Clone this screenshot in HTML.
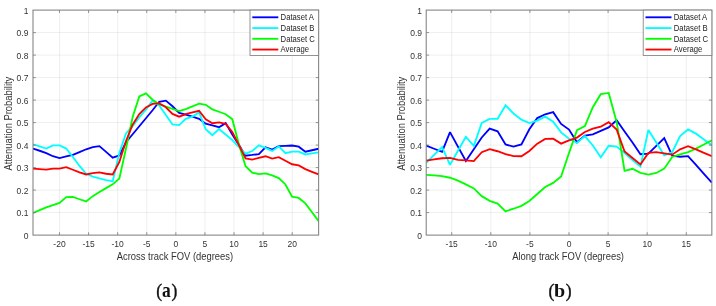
<!DOCTYPE html>
<html><head><meta charset="utf-8"><title>Attenuation probability</title>
<style>
html,body{margin:0;padding:0;background:#fff;}
body{width:716px;height:306px;overflow:hidden;font-family:"Liberation Sans",sans-serif;}
svg{display:block;will-change:transform;}
svg text{font-family:"Liberation Sans",sans-serif;}
svg text.cap{font-family:"Liberation Serif",serif;}
</style></head>
<body>
<svg width="716" height="306" viewBox="0 0 716 306">
<rect width="716" height="306" fill="#ffffff"/>
<g id="left">
<line x1="59.49" y1="10.1" x2="59.49" y2="235.1" stroke="#000" stroke-opacity="0.068" stroke-width="1"/>
<line x1="88.58" y1="10.1" x2="88.58" y2="235.1" stroke="#000" stroke-opacity="0.068" stroke-width="1"/>
<line x1="117.67" y1="10.1" x2="117.67" y2="235.1" stroke="#000" stroke-opacity="0.068" stroke-width="1"/>
<line x1="146.76" y1="10.1" x2="146.76" y2="235.1" stroke="#000" stroke-opacity="0.068" stroke-width="1"/>
<line x1="175.85" y1="10.1" x2="175.85" y2="235.1" stroke="#000" stroke-opacity="0.068" stroke-width="1"/>
<line x1="204.94" y1="10.1" x2="204.94" y2="235.1" stroke="#000" stroke-opacity="0.068" stroke-width="1"/>
<line x1="234.03" y1="10.1" x2="234.03" y2="235.1" stroke="#000" stroke-opacity="0.068" stroke-width="1"/>
<line x1="263.12" y1="10.1" x2="263.12" y2="235.1" stroke="#000" stroke-opacity="0.068" stroke-width="1"/>
<line x1="292.21" y1="10.1" x2="292.21" y2="235.1" stroke="#000" stroke-opacity="0.068" stroke-width="1"/>
<line x1="33.0" y1="212.60" x2="318.65" y2="212.60" stroke="#000" stroke-opacity="0.068" stroke-width="1"/>
<line x1="33.0" y1="190.10" x2="318.65" y2="190.10" stroke="#000" stroke-opacity="0.068" stroke-width="1"/>
<line x1="33.0" y1="167.60" x2="318.65" y2="167.60" stroke="#000" stroke-opacity="0.068" stroke-width="1"/>
<line x1="33.0" y1="145.10" x2="318.65" y2="145.10" stroke="#000" stroke-opacity="0.068" stroke-width="1"/>
<line x1="33.0" y1="122.60" x2="318.65" y2="122.60" stroke="#000" stroke-opacity="0.068" stroke-width="1"/>
<line x1="33.0" y1="100.10" x2="318.65" y2="100.10" stroke="#000" stroke-opacity="0.068" stroke-width="1"/>
<line x1="33.0" y1="77.60" x2="318.65" y2="77.60" stroke="#000" stroke-opacity="0.068" stroke-width="1"/>
<line x1="33.0" y1="55.10" x2="318.65" y2="55.10" stroke="#000" stroke-opacity="0.068" stroke-width="1"/>
<line x1="33.0" y1="32.60" x2="318.65" y2="32.60" stroke="#000" stroke-opacity="0.068" stroke-width="1"/>
<clipPath id="ca"><rect x="33.0" y="10.1" width="285.65" height="225.0"/></clipPath>
<g clip-path="url(#ca)" fill="none" stroke-width="1.85" stroke-linejoin="miter" stroke-miterlimit="2">
<polyline points="33.00,148.55 39.64,150.75 46.29,153.05 52.93,156.25 59.57,158.05 66.22,156.45 72.86,154.85 79.50,152.05 86.14,149.25 92.79,147.15 99.43,146.15 106.07,151.85 112.72,157.65 119.36,155.45 126.00,142.25 132.65,134.25 139.29,126.25 145.93,118.25 152.57,110.25 159.22,101.75 165.86,100.65 172.50,106.25 179.15,112.95 185.79,114.55 192.43,116.65 199.08,118.85 205.72,123.65 212.36,125.45 219.00,127.25 225.65,123.15 232.29,134.45 238.93,144.95 245.58,155.65 252.22,154.95 258.86,154.05 265.51,147.25 272.15,149.55 278.79,146.15 285.43,145.85 292.08,145.55 298.72,146.65 305.36,151.65 312.01,150.25 318.65,148.75" stroke="#0000ff"/>
<polyline points="33.00,144.35 39.64,146.45 46.29,148.55 52.93,145.35 59.57,145.35 66.22,148.55 72.86,156.95 79.50,165.95 86.14,173.75 92.79,176.65 99.43,178.45 106.07,180.15 112.72,181.25 119.36,152.75 126.00,133.45 132.65,126.05 139.29,117.35 145.93,109.65 152.57,100.65 159.22,105.45 165.86,114.95 172.50,124.45 179.15,125.15 185.79,118.75 192.43,116.65 199.08,112.45 205.72,129.25 212.36,135.15 219.00,129.05 225.65,134.45 232.29,140.15 238.93,147.15 245.58,153.65 252.22,151.05 258.86,145.35 265.51,147.85 272.15,150.95 278.79,146.45 285.43,153.25 292.08,151.65 298.72,151.65 305.36,154.45 312.01,153.45 318.65,152.35" stroke="#00ffff"/>
<polyline points="33.00,212.95 39.64,210.15 46.29,207.35 52.93,205.05 59.57,202.85 66.22,197.15 72.86,196.95 79.50,199.25 86.14,201.45 92.79,196.15 99.43,192.05 106.07,188.15 112.72,184.35 119.36,178.45 126.00,148.45 132.65,116.95 139.29,96.45 145.93,93.35 152.57,99.75 159.22,104.15 165.86,106.65 172.50,108.95 179.15,111.15 185.79,109.05 192.43,106.45 199.08,103.65 205.72,104.85 212.36,109.35 219.00,111.75 225.65,114.25 232.29,119.15 238.93,144.45 245.58,166.25 252.22,172.55 258.86,174.15 265.51,173.35 272.15,175.35 278.79,178.15 285.43,184.45 292.08,196.75 298.72,197.95 305.36,203.35 312.01,212.25 318.65,221.15" stroke="#00ff00"/>
<polyline points="33.00,168.55 39.64,169.05 46.29,169.55 52.93,168.55 59.57,168.55 66.22,167.15 72.86,169.75 79.50,172.35 86.14,174.45 92.79,173.05 99.43,172.35 106.07,173.75 112.72,174.45 119.36,161.95 126.00,140.95 132.65,124.75 139.29,114.05 145.93,107.45 152.57,103.95 159.22,103.45 165.86,107.25 172.50,113.85 179.15,116.65 185.79,114.15 192.43,112.45 199.08,110.75 205.72,119.25 212.36,123.25 219.00,122.45 225.65,123.85 232.29,131.95 238.93,145.15 245.58,158.45 252.22,159.55 258.86,157.95 265.51,156.25 272.15,158.65 278.79,157.15 285.43,160.75 292.08,164.25 298.72,165.35 305.36,169.15 312.01,171.85 318.65,174.45" stroke="#ff0000"/>
</g>
<rect x="33.0" y="10.1" width="285.65" height="225.0" fill="none" stroke="#7a7a7a" stroke-width="1"/>
<line x1="59.49" y1="235.1" x2="59.49" y2="232.2" stroke="#7a7a7a" stroke-width="0.8"/>
<line x1="59.49" y1="10.1" x2="59.49" y2="13.0" stroke="#7a7a7a" stroke-width="0.8"/>
<text transform="translate(59.49,247.30) scale(1.0,1.1)" font-size="8.5" text-anchor="middle" fill="#333333">-20</text>
<line x1="88.58" y1="235.1" x2="88.58" y2="232.2" stroke="#7a7a7a" stroke-width="0.8"/>
<line x1="88.58" y1="10.1" x2="88.58" y2="13.0" stroke="#7a7a7a" stroke-width="0.8"/>
<text transform="translate(88.58,247.30) scale(1.0,1.1)" font-size="8.5" text-anchor="middle" fill="#333333">-15</text>
<line x1="117.67" y1="235.1" x2="117.67" y2="232.2" stroke="#7a7a7a" stroke-width="0.8"/>
<line x1="117.67" y1="10.1" x2="117.67" y2="13.0" stroke="#7a7a7a" stroke-width="0.8"/>
<text transform="translate(117.67,247.30) scale(1.0,1.1)" font-size="8.5" text-anchor="middle" fill="#333333">-10</text>
<line x1="146.76" y1="235.1" x2="146.76" y2="232.2" stroke="#7a7a7a" stroke-width="0.8"/>
<line x1="146.76" y1="10.1" x2="146.76" y2="13.0" stroke="#7a7a7a" stroke-width="0.8"/>
<text transform="translate(146.76,247.30) scale(1.0,1.1)" font-size="8.5" text-anchor="middle" fill="#333333">-5</text>
<line x1="175.85" y1="235.1" x2="175.85" y2="232.2" stroke="#7a7a7a" stroke-width="0.8"/>
<line x1="175.85" y1="10.1" x2="175.85" y2="13.0" stroke="#7a7a7a" stroke-width="0.8"/>
<text transform="translate(175.85,247.30) scale(1.0,1.1)" font-size="8.5" text-anchor="middle" fill="#333333">0</text>
<line x1="204.94" y1="235.1" x2="204.94" y2="232.2" stroke="#7a7a7a" stroke-width="0.8"/>
<line x1="204.94" y1="10.1" x2="204.94" y2="13.0" stroke="#7a7a7a" stroke-width="0.8"/>
<text transform="translate(204.94,247.30) scale(1.0,1.1)" font-size="8.5" text-anchor="middle" fill="#333333">5</text>
<line x1="234.03" y1="235.1" x2="234.03" y2="232.2" stroke="#7a7a7a" stroke-width="0.8"/>
<line x1="234.03" y1="10.1" x2="234.03" y2="13.0" stroke="#7a7a7a" stroke-width="0.8"/>
<text transform="translate(234.03,247.30) scale(1.0,1.1)" font-size="8.5" text-anchor="middle" fill="#333333">10</text>
<line x1="263.12" y1="235.1" x2="263.12" y2="232.2" stroke="#7a7a7a" stroke-width="0.8"/>
<line x1="263.12" y1="10.1" x2="263.12" y2="13.0" stroke="#7a7a7a" stroke-width="0.8"/>
<text transform="translate(263.12,247.30) scale(1.0,1.1)" font-size="8.5" text-anchor="middle" fill="#333333">15</text>
<line x1="292.21" y1="235.1" x2="292.21" y2="232.2" stroke="#7a7a7a" stroke-width="0.8"/>
<line x1="292.21" y1="10.1" x2="292.21" y2="13.0" stroke="#7a7a7a" stroke-width="0.8"/>
<text transform="translate(292.21,247.30) scale(1.0,1.1)" font-size="8.5" text-anchor="middle" fill="#333333">20</text>
<text transform="translate(28.40,238.60) scale(1.0,1.1)" font-size="8.5" text-anchor="end" fill="#333333">0</text>
<line x1="33.0" y1="212.60" x2="35.9" y2="212.60" stroke="#7a7a7a" stroke-width="0.8"/>
<line x1="318.65" y1="212.60" x2="315.75" y2="212.60" stroke="#7a7a7a" stroke-width="0.8"/>
<text transform="translate(28.40,216.10) scale(1.0,1.1)" font-size="8.5" text-anchor="end" fill="#333333">0.1</text>
<line x1="33.0" y1="190.10" x2="35.9" y2="190.10" stroke="#7a7a7a" stroke-width="0.8"/>
<line x1="318.65" y1="190.10" x2="315.75" y2="190.10" stroke="#7a7a7a" stroke-width="0.8"/>
<text transform="translate(28.40,193.60) scale(1.0,1.1)" font-size="8.5" text-anchor="end" fill="#333333">0.2</text>
<line x1="33.0" y1="167.60" x2="35.9" y2="167.60" stroke="#7a7a7a" stroke-width="0.8"/>
<line x1="318.65" y1="167.60" x2="315.75" y2="167.60" stroke="#7a7a7a" stroke-width="0.8"/>
<text transform="translate(28.40,171.10) scale(1.0,1.1)" font-size="8.5" text-anchor="end" fill="#333333">0.3</text>
<line x1="33.0" y1="145.10" x2="35.9" y2="145.10" stroke="#7a7a7a" stroke-width="0.8"/>
<line x1="318.65" y1="145.10" x2="315.75" y2="145.10" stroke="#7a7a7a" stroke-width="0.8"/>
<text transform="translate(28.40,148.60) scale(1.0,1.1)" font-size="8.5" text-anchor="end" fill="#333333">0.4</text>
<line x1="33.0" y1="122.60" x2="35.9" y2="122.60" stroke="#7a7a7a" stroke-width="0.8"/>
<line x1="318.65" y1="122.60" x2="315.75" y2="122.60" stroke="#7a7a7a" stroke-width="0.8"/>
<text transform="translate(28.40,126.10) scale(1.0,1.1)" font-size="8.5" text-anchor="end" fill="#333333">0.5</text>
<line x1="33.0" y1="100.10" x2="35.9" y2="100.10" stroke="#7a7a7a" stroke-width="0.8"/>
<line x1="318.65" y1="100.10" x2="315.75" y2="100.10" stroke="#7a7a7a" stroke-width="0.8"/>
<text transform="translate(28.40,103.60) scale(1.0,1.1)" font-size="8.5" text-anchor="end" fill="#333333">0.6</text>
<line x1="33.0" y1="77.60" x2="35.9" y2="77.60" stroke="#7a7a7a" stroke-width="0.8"/>
<line x1="318.65" y1="77.60" x2="315.75" y2="77.60" stroke="#7a7a7a" stroke-width="0.8"/>
<text transform="translate(28.40,81.10) scale(1.0,1.1)" font-size="8.5" text-anchor="end" fill="#333333">0.7</text>
<line x1="33.0" y1="55.10" x2="35.9" y2="55.10" stroke="#7a7a7a" stroke-width="0.8"/>
<line x1="318.65" y1="55.10" x2="315.75" y2="55.10" stroke="#7a7a7a" stroke-width="0.8"/>
<text transform="translate(28.40,58.60) scale(1.0,1.1)" font-size="8.5" text-anchor="end" fill="#333333">0.8</text>
<line x1="33.0" y1="32.60" x2="35.9" y2="32.60" stroke="#7a7a7a" stroke-width="0.8"/>
<line x1="318.65" y1="32.60" x2="315.75" y2="32.60" stroke="#7a7a7a" stroke-width="0.8"/>
<text transform="translate(28.40,36.10) scale(1.0,1.1)" font-size="8.5" text-anchor="end" fill="#333333">0.9</text>
<text transform="translate(28.40,13.60) scale(1.0,1.1)" font-size="8.5" text-anchor="end" fill="#333333">1</text>
<text transform="translate(174.92,260.30) scale(1.0,1.1)" font-size="9.4" text-anchor="middle" fill="#333333">Across track FOV (degrees)</text>
<text transform="translate(11.50,123.65) rotate(-90) scale(1,1.07)" font-size="9.4" text-anchor="middle" fill="#333333">Attenuation Probability</text>
<rect x="250.00" y="10.1" width="68.65" height="45.4" fill="#fff" stroke="#7a7a7a" stroke-width="0.8"/>
<line x1="252.30" y1="17.30" x2="278.30" y2="17.30" stroke="#0000ff" stroke-width="1.85"/>
<text transform="translate(280.60,20.20) scale(1.0,1.14)" font-size="7.7" text-anchor="start" fill="#222">Dataset A</text>
<line x1="252.30" y1="28.05" x2="278.30" y2="28.05" stroke="#00ffff" stroke-width="1.85"/>
<text transform="translate(280.60,30.95) scale(1.0,1.14)" font-size="7.7" text-anchor="start" fill="#222">Dataset B</text>
<line x1="252.30" y1="38.80" x2="278.30" y2="38.80" stroke="#00ff00" stroke-width="1.85"/>
<text transform="translate(280.60,41.70) scale(1.0,1.14)" font-size="7.7" text-anchor="start" fill="#222">Dataset C</text>
<line x1="252.30" y1="49.55" x2="278.30" y2="49.55" stroke="#ff0000" stroke-width="1.85"/>
<text transform="translate(280.60,52.45) scale(1.0,1.14)" font-size="7.7" text-anchor="start" fill="#222">Average</text>
<text transform="translate(159.15,296.9) scale(1.0,1.08)" class="cap" font-size="17.5" text-anchor="middle" fill="#111" stroke="#111" stroke-width="0.35">(</text>
<text transform="translate(166.45,296.9) scale(1.0,1.17)" class="cap" font-size="17.5" text-anchor="middle" fill="#111" font-weight="bold">a</text>
<text transform="translate(174.3,296.9) scale(1.0,1.08)" class="cap" font-size="17.5" text-anchor="middle" fill="#111" stroke="#111" stroke-width="0.35">)</text>
</g>
<g id="right">
<line x1="451.70" y1="10.1" x2="451.70" y2="235.1" stroke="#000" stroke-opacity="0.068" stroke-width="1"/>
<line x1="490.80" y1="10.1" x2="490.80" y2="235.1" stroke="#000" stroke-opacity="0.068" stroke-width="1"/>
<line x1="529.90" y1="10.1" x2="529.90" y2="235.1" stroke="#000" stroke-opacity="0.068" stroke-width="1"/>
<line x1="569.00" y1="10.1" x2="569.00" y2="235.1" stroke="#000" stroke-opacity="0.068" stroke-width="1"/>
<line x1="608.10" y1="10.1" x2="608.10" y2="235.1" stroke="#000" stroke-opacity="0.068" stroke-width="1"/>
<line x1="647.20" y1="10.1" x2="647.20" y2="235.1" stroke="#000" stroke-opacity="0.068" stroke-width="1"/>
<line x1="686.30" y1="10.1" x2="686.30" y2="235.1" stroke="#000" stroke-opacity="0.068" stroke-width="1"/>
<line x1="426.2" y1="212.60" x2="711.85" y2="212.60" stroke="#000" stroke-opacity="0.068" stroke-width="1"/>
<line x1="426.2" y1="190.10" x2="711.85" y2="190.10" stroke="#000" stroke-opacity="0.068" stroke-width="1"/>
<line x1="426.2" y1="167.60" x2="711.85" y2="167.60" stroke="#000" stroke-opacity="0.068" stroke-width="1"/>
<line x1="426.2" y1="145.10" x2="711.85" y2="145.10" stroke="#000" stroke-opacity="0.068" stroke-width="1"/>
<line x1="426.2" y1="122.60" x2="711.85" y2="122.60" stroke="#000" stroke-opacity="0.068" stroke-width="1"/>
<line x1="426.2" y1="100.10" x2="711.85" y2="100.10" stroke="#000" stroke-opacity="0.068" stroke-width="1"/>
<line x1="426.2" y1="77.60" x2="711.85" y2="77.60" stroke="#000" stroke-opacity="0.068" stroke-width="1"/>
<line x1="426.2" y1="55.10" x2="711.85" y2="55.10" stroke="#000" stroke-opacity="0.068" stroke-width="1"/>
<line x1="426.2" y1="32.60" x2="711.85" y2="32.60" stroke="#000" stroke-opacity="0.068" stroke-width="1"/>
<clipPath id="cb"><rect x="426.2" y="10.1" width="285.65" height="225.0"/></clipPath>
<g clip-path="url(#cb)" fill="none" stroke-width="1.85" stroke-linejoin="miter" stroke-miterlimit="2">
<polyline points="426.20,145.65 434.13,148.75 442.07,151.75 450.00,132.15 457.94,146.65 465.87,161.05 473.81,149.25 481.74,137.45 489.68,128.55 497.61,131.25 505.55,144.45 513.48,146.65 521.42,144.45 529.35,129.25 537.29,118.05 545.22,114.25 553.16,112.15 561.09,123.95 569.02,129.55 576.96,142.25 584.89,135.65 592.83,134.45 600.76,130.95 608.70,127.45 616.63,120.25 624.57,131.45 632.50,142.45 640.44,154.25 648.37,153.55 656.31,145.85 664.24,138.15 672.18,155.65 680.11,156.75 688.05,156.15 695.98,164.95 703.92,173.85 711.85,182.75" stroke="#0000ff"/>
<polyline points="426.20,162.75 434.13,154.95 442.07,147.05 450.00,164.85 457.94,150.75 465.87,136.75 473.81,145.85 481.74,122.95 489.68,118.95 497.61,118.75 505.55,105.35 513.48,113.45 521.42,119.65 529.35,123.05 537.29,120.55 545.22,116.65 553.16,121.65 561.09,132.35 569.02,138.75 576.96,142.95 584.89,136.15 592.83,145.45 600.76,157.25 608.70,145.75 616.63,146.55 624.57,152.95 632.50,159.95 640.44,166.65 648.37,129.95 656.31,142.45 664.24,155.25 672.18,152.15 680.11,136.05 688.05,129.45 695.98,133.65 703.92,139.45 711.85,145.15" stroke="#00ffff"/>
<polyline points="426.20,174.95 434.13,175.45 442.07,176.05 450.00,177.75 457.94,180.55 465.87,184.45 473.81,188.45 481.74,196.15 489.68,200.85 497.61,203.65 505.55,211.35 513.48,208.75 521.42,205.85 529.35,201.05 537.29,194.05 545.22,186.95 553.16,182.85 561.09,176.55 569.02,152.95 576.96,130.25 584.89,126.15 592.83,107.25 600.76,94.15 608.70,92.95 616.63,121.95 624.57,170.85 632.50,168.75 640.44,172.85 648.37,174.65 656.31,172.95 664.24,168.65 672.18,156.95 680.11,154.45 688.05,152.15 695.98,148.65 703.92,144.45 711.85,140.25" stroke="#00ff00"/>
<polyline points="426.20,160.65 434.13,159.45 442.07,158.25 450.00,157.95 457.94,159.95 465.87,160.35 473.81,161.05 481.74,152.25 489.68,149.15 497.61,151.25 505.55,154.05 513.48,156.05 521.42,156.25 529.35,150.95 537.29,143.65 545.22,138.95 553.16,138.75 561.09,143.65 569.02,140.35 576.96,137.55 584.89,131.95 592.83,128.55 600.76,126.75 608.70,122.15 616.63,129.45 624.57,151.45 632.50,157.95 640.44,164.45 648.37,152.95 656.31,152.15 664.24,153.45 672.18,154.65 680.11,149.35 688.05,146.25 695.98,149.45 703.92,152.95 711.85,156.25" stroke="#ff0000"/>
</g>
<rect x="426.2" y="10.1" width="285.65" height="225.0" fill="none" stroke="#7a7a7a" stroke-width="1"/>
<line x1="451.70" y1="235.1" x2="451.70" y2="232.2" stroke="#7a7a7a" stroke-width="0.8"/>
<line x1="451.70" y1="10.1" x2="451.70" y2="13.0" stroke="#7a7a7a" stroke-width="0.8"/>
<text transform="translate(451.70,247.30) scale(1.0,1.1)" font-size="8.5" text-anchor="middle" fill="#333333">-15</text>
<line x1="490.80" y1="235.1" x2="490.80" y2="232.2" stroke="#7a7a7a" stroke-width="0.8"/>
<line x1="490.80" y1="10.1" x2="490.80" y2="13.0" stroke="#7a7a7a" stroke-width="0.8"/>
<text transform="translate(490.80,247.30) scale(1.0,1.1)" font-size="8.5" text-anchor="middle" fill="#333333">-10</text>
<line x1="529.90" y1="235.1" x2="529.90" y2="232.2" stroke="#7a7a7a" stroke-width="0.8"/>
<line x1="529.90" y1="10.1" x2="529.90" y2="13.0" stroke="#7a7a7a" stroke-width="0.8"/>
<text transform="translate(529.90,247.30) scale(1.0,1.1)" font-size="8.5" text-anchor="middle" fill="#333333">-5</text>
<line x1="569.00" y1="235.1" x2="569.00" y2="232.2" stroke="#7a7a7a" stroke-width="0.8"/>
<line x1="569.00" y1="10.1" x2="569.00" y2="13.0" stroke="#7a7a7a" stroke-width="0.8"/>
<text transform="translate(569.00,247.30) scale(1.0,1.1)" font-size="8.5" text-anchor="middle" fill="#333333">0</text>
<line x1="608.10" y1="235.1" x2="608.10" y2="232.2" stroke="#7a7a7a" stroke-width="0.8"/>
<line x1="608.10" y1="10.1" x2="608.10" y2="13.0" stroke="#7a7a7a" stroke-width="0.8"/>
<text transform="translate(608.10,247.30) scale(1.0,1.1)" font-size="8.5" text-anchor="middle" fill="#333333">5</text>
<line x1="647.20" y1="235.1" x2="647.20" y2="232.2" stroke="#7a7a7a" stroke-width="0.8"/>
<line x1="647.20" y1="10.1" x2="647.20" y2="13.0" stroke="#7a7a7a" stroke-width="0.8"/>
<text transform="translate(647.20,247.30) scale(1.0,1.1)" font-size="8.5" text-anchor="middle" fill="#333333">10</text>
<line x1="686.30" y1="235.1" x2="686.30" y2="232.2" stroke="#7a7a7a" stroke-width="0.8"/>
<line x1="686.30" y1="10.1" x2="686.30" y2="13.0" stroke="#7a7a7a" stroke-width="0.8"/>
<text transform="translate(686.30,247.30) scale(1.0,1.1)" font-size="8.5" text-anchor="middle" fill="#333333">15</text>
<text transform="translate(422.00,238.60) scale(1.0,1.1)" font-size="8.5" text-anchor="end" fill="#333333">0</text>
<line x1="426.2" y1="212.60" x2="429.09999999999997" y2="212.60" stroke="#7a7a7a" stroke-width="0.8"/>
<line x1="711.85" y1="212.60" x2="708.95" y2="212.60" stroke="#7a7a7a" stroke-width="0.8"/>
<text transform="translate(422.00,216.10) scale(1.0,1.1)" font-size="8.5" text-anchor="end" fill="#333333">0.1</text>
<line x1="426.2" y1="190.10" x2="429.09999999999997" y2="190.10" stroke="#7a7a7a" stroke-width="0.8"/>
<line x1="711.85" y1="190.10" x2="708.95" y2="190.10" stroke="#7a7a7a" stroke-width="0.8"/>
<text transform="translate(422.00,193.60) scale(1.0,1.1)" font-size="8.5" text-anchor="end" fill="#333333">0.2</text>
<line x1="426.2" y1="167.60" x2="429.09999999999997" y2="167.60" stroke="#7a7a7a" stroke-width="0.8"/>
<line x1="711.85" y1="167.60" x2="708.95" y2="167.60" stroke="#7a7a7a" stroke-width="0.8"/>
<text transform="translate(422.00,171.10) scale(1.0,1.1)" font-size="8.5" text-anchor="end" fill="#333333">0.3</text>
<line x1="426.2" y1="145.10" x2="429.09999999999997" y2="145.10" stroke="#7a7a7a" stroke-width="0.8"/>
<line x1="711.85" y1="145.10" x2="708.95" y2="145.10" stroke="#7a7a7a" stroke-width="0.8"/>
<text transform="translate(422.00,148.60) scale(1.0,1.1)" font-size="8.5" text-anchor="end" fill="#333333">0.4</text>
<line x1="426.2" y1="122.60" x2="429.09999999999997" y2="122.60" stroke="#7a7a7a" stroke-width="0.8"/>
<line x1="711.85" y1="122.60" x2="708.95" y2="122.60" stroke="#7a7a7a" stroke-width="0.8"/>
<text transform="translate(422.00,126.10) scale(1.0,1.1)" font-size="8.5" text-anchor="end" fill="#333333">0.5</text>
<line x1="426.2" y1="100.10" x2="429.09999999999997" y2="100.10" stroke="#7a7a7a" stroke-width="0.8"/>
<line x1="711.85" y1="100.10" x2="708.95" y2="100.10" stroke="#7a7a7a" stroke-width="0.8"/>
<text transform="translate(422.00,103.60) scale(1.0,1.1)" font-size="8.5" text-anchor="end" fill="#333333">0.6</text>
<line x1="426.2" y1="77.60" x2="429.09999999999997" y2="77.60" stroke="#7a7a7a" stroke-width="0.8"/>
<line x1="711.85" y1="77.60" x2="708.95" y2="77.60" stroke="#7a7a7a" stroke-width="0.8"/>
<text transform="translate(422.00,81.10) scale(1.0,1.1)" font-size="8.5" text-anchor="end" fill="#333333">0.7</text>
<line x1="426.2" y1="55.10" x2="429.09999999999997" y2="55.10" stroke="#7a7a7a" stroke-width="0.8"/>
<line x1="711.85" y1="55.10" x2="708.95" y2="55.10" stroke="#7a7a7a" stroke-width="0.8"/>
<text transform="translate(422.00,58.60) scale(1.0,1.1)" font-size="8.5" text-anchor="end" fill="#333333">0.8</text>
<line x1="426.2" y1="32.60" x2="429.09999999999997" y2="32.60" stroke="#7a7a7a" stroke-width="0.8"/>
<line x1="711.85" y1="32.60" x2="708.95" y2="32.60" stroke="#7a7a7a" stroke-width="0.8"/>
<text transform="translate(422.00,36.10) scale(1.0,1.1)" font-size="8.5" text-anchor="end" fill="#333333">0.9</text>
<text transform="translate(422.00,13.60) scale(1.0,1.1)" font-size="8.5" text-anchor="end" fill="#333333">1</text>
<text transform="translate(568.12,260.30) scale(1.0,1.1)" font-size="9.4" text-anchor="middle" fill="#333333">Along track FOV (degrees)</text>
<text transform="translate(404.70,123.65) rotate(-90) scale(1,1.07)" font-size="9.4" text-anchor="middle" fill="#333333">Attenuation Probability</text>
<rect x="643.20" y="10.1" width="68.65" height="45.4" fill="#fff" stroke="#7a7a7a" stroke-width="0.8"/>
<line x1="645.50" y1="17.30" x2="671.50" y2="17.30" stroke="#0000ff" stroke-width="1.85"/>
<text transform="translate(673.80,20.20) scale(1.0,1.14)" font-size="7.7" text-anchor="start" fill="#222">Dataset A</text>
<line x1="645.50" y1="28.05" x2="671.50" y2="28.05" stroke="#00ffff" stroke-width="1.85"/>
<text transform="translate(673.80,30.95) scale(1.0,1.14)" font-size="7.7" text-anchor="start" fill="#222">Dataset B</text>
<line x1="645.50" y1="38.80" x2="671.50" y2="38.80" stroke="#00ff00" stroke-width="1.85"/>
<text transform="translate(673.80,41.70) scale(1.0,1.14)" font-size="7.7" text-anchor="start" fill="#222">Dataset C</text>
<line x1="645.50" y1="49.55" x2="671.50" y2="49.55" stroke="#ff0000" stroke-width="1.85"/>
<text transform="translate(673.80,52.45) scale(1.0,1.14)" font-size="7.7" text-anchor="start" fill="#222">Average</text>
<text transform="translate(551.4,296.9) scale(1.0,1.08)" class="cap" font-size="17.5" text-anchor="middle" fill="#111" stroke="#111" stroke-width="0.35">(</text>
<text transform="translate(559.7,296.9) scale(1.15,1.05)" class="cap" font-size="17.5" text-anchor="middle" fill="#111" font-weight="bold">b</text>
<text transform="translate(568.6,296.9) scale(1.0,1.08)" class="cap" font-size="17.5" text-anchor="middle" fill="#111" stroke="#111" stroke-width="0.35">)</text>
</g>
</svg>
</body></html>
